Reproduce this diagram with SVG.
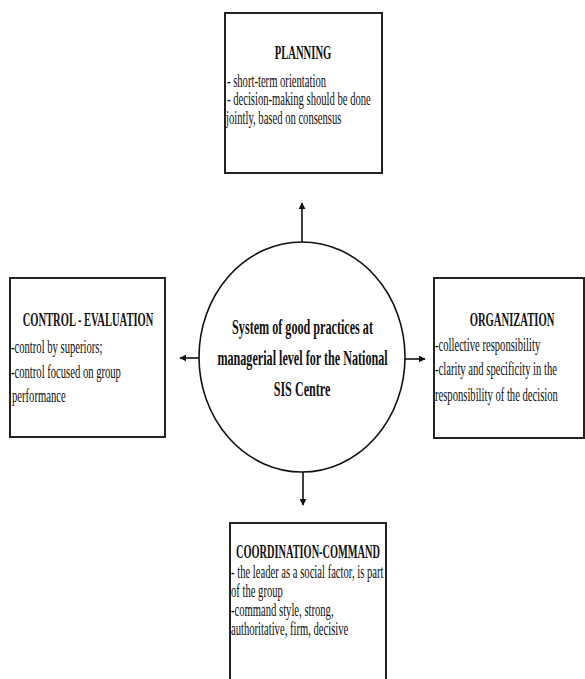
<svg xmlns="http://www.w3.org/2000/svg" width="585" height="679" viewBox="0 0 585 679">
<style>
.box{fill:#fff;stroke:#222;stroke-width:2}
text{font-family:"Liberation Serif","Times New Roman",serif;fill:#111}
.t{font-size:18px}
.h{font-size:18px;font-weight:bold;text-anchor:middle}
.c{font-size:21px;font-weight:bold;text-anchor:middle}
.ln{stroke:#111;stroke-width:1.6;fill:none}
</style>
<defs>
<marker id="ah" viewBox="0 0 10 10" refX="9" refY="5" markerWidth="7" markerHeight="7" markerUnits="userSpaceOnUse" orient="auto">
<path d="M0,0 L10,5 L0,10 z" fill="#111"/>
</marker>
</defs>
<rect width="585" height="679" fill="#fff"/>
<g id="connectors">
<line class="ln" x1="302" y1="243" x2="302" y2="203" marker-end="url(#ah)"/>
<line class="ln" x1="405" y1="359" x2="425" y2="359" marker-end="url(#ah)"/>
<line class="ln" x1="200" y1="358" x2="180" y2="358" marker-end="url(#ah)"/>
<line class="ln" x1="303" y1="472" x2="303" y2="505" marker-end="url(#ah)"/>
</g>
<g id="center">
<ellipse cx="302" cy="357" rx="103" ry="115" fill="#fff" stroke="#111" stroke-width="1.6"/>
<text class="c" transform="translate(302.5,334) scale(0.578,1)">System of good practices at</text>
<text class="c" transform="translate(302.5,365) scale(0.578,1)">managerial level for the National</text>
<text class="c" transform="translate(302,396) scale(0.578,1)">SIS Centre</text>
</g>
<g id="planning">
<rect class="box" x="225" y="13" width="157" height="160"/>
<text class="h" transform="translate(303,59) scale(0.59,1)">PLANNING</text>
<text class="t" transform="translate(227,87) scale(0.59,1)">-  short-term orientation</text>
<text class="t" transform="translate(227,105) scale(0.59,1)">- decision-making should be done</text>
<text class="t" transform="translate(226,124) scale(0.59,1)">jointly, based on consensus</text>
</g>
<g id="control">
<rect class="box" x="10" y="278" width="155" height="159"/>
<text class="h" transform="translate(88,326) scale(0.585,1)">CONTROL - EVALUATION</text>
<text class="t" transform="translate(11,353) scale(0.59,1)">-control by superiors;</text>
<text class="t" transform="translate(11,378) scale(0.59,1)">-control focused on group</text>
<text class="t" transform="translate(12,402) scale(0.59,1)">performance</text>
</g>
<g id="organization">
<rect class="box" x="434" y="278" width="150" height="160"/>
<text class="h" transform="translate(512,326) scale(0.59,1)">ORGANIZATION</text>
<text class="t" transform="translate(435,351) scale(0.59,1)">-collective responsibility</text>
<text class="t" transform="translate(435,375) scale(0.59,1)">-clarity and specificity in the</text>
<text class="t" transform="translate(435,401) scale(0.59,1)">responsibility of the decision</text>
</g>
<g id="coordination">
<rect class="box" x="230" y="523" width="156" height="170"/>
<text class="h" transform="translate(308,558) scale(0.575,1)">COORDINATION-COMMAND</text>
<text class="t" transform="translate(231,578) scale(0.59,1)">- the leader as a social factor, is part</text>
<text class="t" transform="translate(231,597) scale(0.59,1)">of the group</text>
<text class="t" transform="translate(231,616) scale(0.59,1)">-command style, strong,</text>
<text class="t" transform="translate(231,635) scale(0.59,1)">authoritative, firm, decisive</text>
</g>
</svg>
